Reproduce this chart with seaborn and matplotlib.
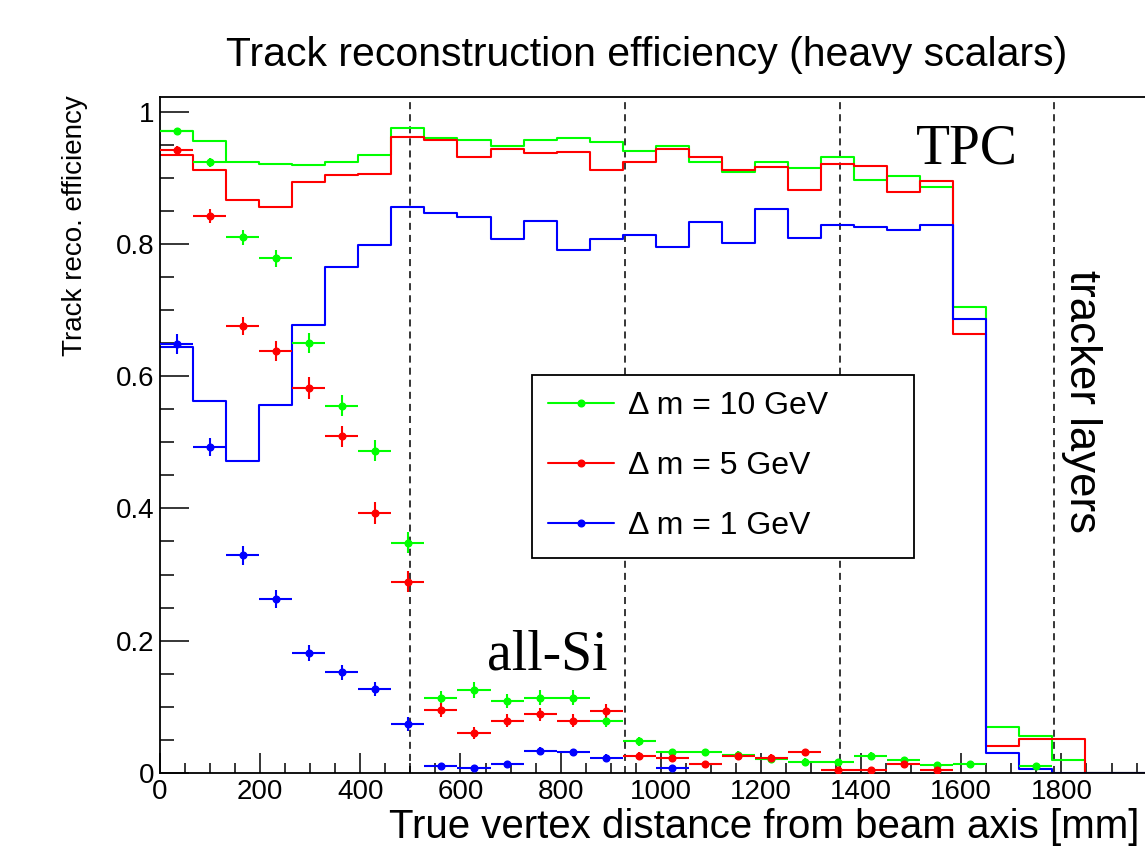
import numpy as np
import pandas as pd
import matplotlib
matplotlib.use("Agg")
import matplotlib.pyplot as plt
from matplotlib.lines import Line2D
from matplotlib.ticker import MultipleLocator, FuncFormatter
import seaborn as sns

# histogram binning: 30 bins of 66 mm between 0 and 1980 mm
BIN_WIDTH = 66
X_MAX = 1980
bin_centers = np.arange(BIN_WIDTH / 2, X_MAX, BIN_WIDTH)
nan = np.nan

# TPC efficiency (step histograms)
tpc_dm10 = [0.970, 0.955, 0.924, 0.921, 0.919, 0.923, 0.935, 0.975, 0.960, 0.957,
            0.948, 0.957, 0.960, 0.954, 0.941, 0.948, 0.924, 0.908, 0.923, 0.915,
            0.932, 0.897, 0.902, 0.886, 0.704, 0.069, 0.056, 0.020, 0.0, 0.0]
tpc_dm5 = [0.935, 0.911, 0.867, 0.856, 0.894, 0.904, 0.905, 0.962, 0.957, 0.932,
           0.944, 0.938, 0.939, 0.912, 0.923, 0.943, 0.931, 0.912, 0.916, 0.881,
           0.920, 0.918, 0.879, 0.895, 0.664, 0.041, 0.051, 0.051, 0.0, 0.0]
tpc_dm1 = [0.644, 0.563, 0.472, 0.556, 0.677, 0.765, 0.799, 0.855, 0.847, 0.841,
           0.808, 0.835, 0.790, 0.807, 0.814, 0.795, 0.833, 0.802, 0.852, 0.809,
           0.828, 0.826, 0.821, 0.828, 0.686, 0.030, 0.006, 0.0, 0.0, 0.0]

# all-Si efficiency (points with errors)
si_dm10 = [0.971, 0.923, 0.810, 0.778, 0.650, 0.555, 0.487, 0.348, 0.113, 0.126,
           0.109, 0.114, 0.114, 0.079, 0.048, 0.031, 0.031, 0.027, 0.021, 0.017,
           0.016, 0.026, 0.019, 0.012, 0.013, nan, 0.011, nan, nan, nan]
si_dm10_err = [0.004, 0.007, 0.011, 0.013, 0.015, 0.016, 0.016, 0.016, 0.011, 0.012,
               0.011, 0.011, 0.011, 0.009, 0.007, 0.006, 0.006, 0.006, 0.005, 0.005,
               0.005, 0.006, 0.005, 0.004, 0.004, nan, 0.004, nan, nan, nan]
si_dm5 = [0.942, 0.842, 0.676, 0.638, 0.582, 0.509, 0.393, 0.289, 0.095, 0.060,
          0.079, 0.089, 0.079, 0.094, 0.026, 0.022, 0.013, 0.026, 0.023, 0.031,
          0.004, 0.005, 0.014, 0.005, nan, nan, nan, nan, nan, nan]
si_dm5_err = [0.006, 0.011, 0.014, 0.015, 0.016, 0.016, 0.016, 0.016, 0.011, 0.009,
              0.010, 0.010, 0.010, 0.011, 0.006, 0.006, 0.005, 0.006, 0.005, 0.006,
              0.003, 0.003, 0.004, 0.003, nan, nan, nan, nan, nan, nan]
si_dm1 = [0.648, 0.493, 0.329, 0.263, 0.182, 0.152, 0.127, 0.074, 0.011, 0.007,
          0.014, 0.034, 0.031, 0.023, nan, 0.007, nan, nan, nan, nan,
          nan, nan, nan, nan, nan, nan, nan, nan, nan, nan]
si_dm1_err = [0.015, 0.014, 0.014, 0.013, 0.012, 0.011, 0.011, 0.010, 0.004, 0.003,
              0.004, 0.006, 0.005, 0.005, nan, 0.003, nan, nan, nan, nan,
              nan, nan, nan, nan, nan, nan, nan, nan, nan, nan]

layer_radii = [500, 929, 1357, 1786]
labels = ["\u0394 m = 10 GeV", "\u0394 m = 5 GeV", "\u0394 m = 1 GeV"]
colors = ["#00ff00", "#ff0000", "#0000ff"]

sns.set_style("ticks")
plt.rcParams["font.family"] = ["Liberation Sans", "DejaVu Sans"]
plt.rcParams["text.color"] = "black"
plt.rcParams["xtick.color"] = "black"
plt.rcParams["ytick.color"] = "black"
plt.rcParams["axes.edgecolor"] = "black"

W, H = 1145, 846
fig = plt.figure(figsize=(W / 100, H / 100), dpi=100)
ax = fig.add_axes([160 / W, 1 - 773 / H, (1151.6 - 160) / W, (773 - 97) / H])

# TPC step histograms
for vals, col in zip([tpc_dm10, tpc_dm5, tpc_dm1], colors):
    df = pd.DataFrame({"r": bin_centers, "eff": vals})
    sns.histplot(data=df, x="r", weights="eff", binwidth=BIN_WIDTH,
                 binrange=(0, X_MAX), element="step", fill=False, color=col,
                 linewidth=1.5, ax=ax)

# all-Si points
for vals, errs, col in zip([si_dm10, si_dm5, si_dm1],
                           [si_dm10_err, si_dm5_err, si_dm1_err], colors):
    ax.errorbar(bin_centers, vals, xerr=BIN_WIDTH / 2, yerr=errs, fmt="o", color=col,
                markersize=4.8, elinewidth=1.5, capsize=0, zorder=4)

for r in layer_radii:
    ax.axvline(r, color="black", lw=1.1, linestyle=(0, (4.6, 3.3)), zorder=1)

ax.set_xlim(0, X_MAX)
ax.set_ylim(0, 1.022)
ax.set_xlabel("")
ax.set_ylabel("")

ax.xaxis.set_major_locator(MultipleLocator(200))
ax.xaxis.set_minor_locator(MultipleLocator(50))
ax.yaxis.set_major_locator(MultipleLocator(0.2))
ax.yaxis.set_minor_locator(MultipleLocator(0.05))
ax.yaxis.set_major_formatter(FuncFormatter(lambda v, p: "%g" % round(v, 2)))
ax.tick_params(axis="both", which="both", direction="in", width=1.1,
               labelsize=20, top=False, right=False, colors="black")
ax.tick_params(axis="x", which="major", length=14.4, pad=4)
ax.tick_params(axis="x", which="minor", length=7.2)
ax.tick_params(axis="y", which="major", length=21, pad=4)
ax.tick_params(axis="y", which="minor", length=10)
for side in ["left", "bottom", "top"]:
    ax.spines[side].set_linewidth(1.3)
    ax.spines[side].set_color("black")
ax.spines["right"].set_visible(False)

# annotations
ax.text(1612, 0.922, "TPC", family=["Liberation Serif"], fontsize=40,
        ha="center", va="baseline", color="black")
ax.text(774, 0.156, "all-Si", family=["Liberation Serif"], fontsize=40,
        ha="center", va="baseline", color="black")
ax.text(1841, 0.562, "tracker layers", fontsize=31.5, rotation=-90,
        ha="center", va="center", color="black")

handles = [Line2D([], [], color=c, marker="o", markersize=4.8, lw=1.5) for c in colors]
leg = ax.legend(handles, labels, loc="upper left",
                bbox_to_anchor=(0.3749, 0.3185, 0.3855, 0.2703), mode="expand",
                fontsize=23, frameon=True, fancybox=False, framealpha=1,
                borderpad=0.51, labelspacing=0.94, handlelength=2.06,
                handletextpad=0.44, borderaxespad=0)
leg.get_frame().set_edgecolor("black")
leg.get_frame().set_linewidth(1.3)
for t in leg.get_texts():
    t.set_color("black")
leg.set_zorder(5)

fig.text(646.5 / W, 1 - 66 / H, "Track reconstruction efficiency (heavy scalars)",
         fontsize=29.5, ha="center", va="baseline", color="black")
fig.text(75 / W, 1 - 95 / H, "Track reco. efficiency", fontsize=20,
         rotation=90, ha="center", va="top", color="black")
fig.text(1139 / W, 1 - 838 / H, "True vertex distance from beam axis [mm]",
         fontsize=29, ha="right", va="baseline", color="black")

fig.savefig("out.png", dpi=100)
